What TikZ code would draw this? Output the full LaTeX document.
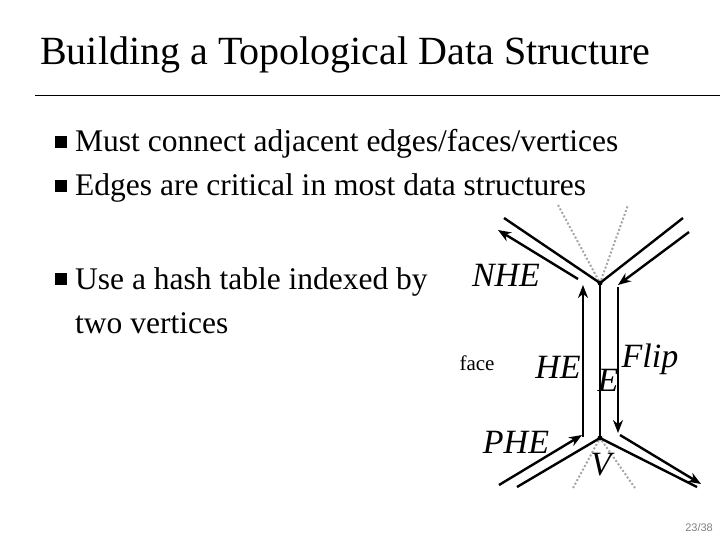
\documentclass[tikz,border=0pt]{standalone}
\usepackage{fontspec}
\setmainfont{Liberation Serif}
\newfontfamily\sansf{Liberation Sans}
\usetikzlibrary{arrows.meta}
\begin{document}
\begin{tikzpicture}[x=1pt,y=-1pt,
  txt/.style={inner sep=0pt,anchor=base west,font=\fontsize{31.5}{33}\selectfont},
  bul/.style={fill=black,minimum size=12pt,inner sep=0pt},
  edge/.style={line width=2.4pt},
  he/.style={line width=2.4pt,-{Stealth[length=13pt,width=10pt]}},
  ghost/.style={gray!70,line width=2pt,dotted},
  lab/.style={inner sep=0pt,font=\fontsize{34}{36}\selectfont\itshape}]
\useasboundingbox (0,0) rectangle (720,540);
\node[inner sep=0pt,anchor=base west,font=\fontsize{40}{44}\selectfont] (title) at (40,65) {Building a Topological Data Structure};
\draw[line width=1pt] (35,96) -- (720,96);
\node[bul] (b1) at (61,142) {};
\node[txt] (t1) at (75,152) {Must connect adjacent edges/faces/vertices};
\node[bul] (b2) at (61,186) {};
\node[txt] (t2) at (75,196) {Edges are critical in most data structures};
\node[bul] (b3) at (61,279) {};
\node[txt] (t3) at (75,289) {Use a hash table indexed by};
\node[txt] (t4) at (75,333) {two vertices};
% vertices
\coordinate (T) at (600,283);
\coordinate (B) at (600,438);
\draw[ghost] (558,205) -- (T) -- (628,205);
\draw[ghost] (573,488) -- (B) -- (635,488);
\draw[edge] (504,218) -- (T) -- (683,218);
\draw[edge] (T) -- (B);
\draw[edge] (517,487) -- (B) -- (697,487);
\fill (T) circle (2.5pt);
\fill (B) circle (2.5pt);
% half edges
\coordinate (p1) at (499,485); \coordinate (p2) at (582,435);
\coordinate (h1) at (583,437); \coordinate (h2) at (583,285);
\coordinate (n1) at (578,279); \coordinate (n2) at (498,230);
\draw[he] (p1) -- (p2);
\draw[he] (h1) -- (h2);
\draw[he] (n1) -- (n2);
\coordinate (f0) at (689,232); \coordinate (f1) at (618,285);
\coordinate (f2) at (618,433); \coordinate (f3) at (701,484);
\draw[he] (f0) -- (f1);
\draw[he] (618,287) -- (f2);
\draw[he] (620,435) -- (f3);
% labels
\node[lab] (nhe) at (506,275) {NHE};
\node[lab] (hel) at (558,367) {HE};
\node[lab] (el) at (608,380) {E};
\node[lab] (flip) at (650,359) {Flip};
\node[inner sep=0pt,font=\fontsize{21}{23}\selectfont] (face) at (477,363) {face};
\node[lab] (phe) at (516,442) {PHE};
\node[lab] (vl) at (601,465) {V};
\node[inner sep=0pt,anchor=base east,font=\sansf\fontsize{11}{12}\selectfont,text=gray] (pg) at (713,531) {23/38};
\end{tikzpicture}
\end{document}
